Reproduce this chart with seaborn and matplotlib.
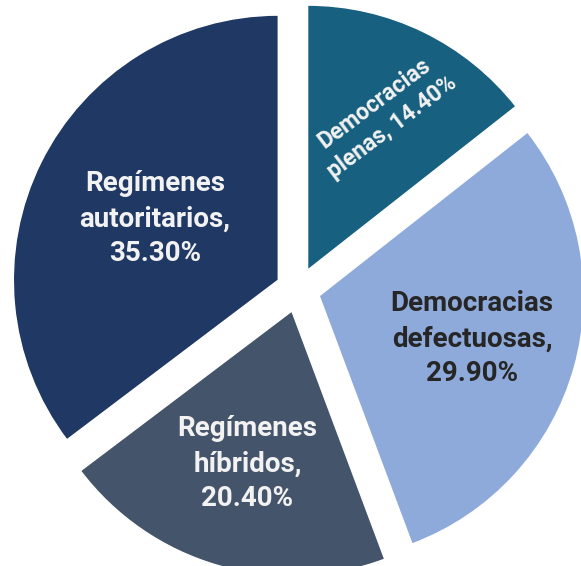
import numpy as np
import seaborn as sns
import matplotlib.pyplot as plt

sns.set_style("white")
plt.rcParams['font.family'] = ['Roboto', 'DejaVu Sans']

# data
categories = ["Democracias\nplenas", "Democracias\ndefectuosas", "Regímenes\nhíbridos", "Regímenes\nautoritarios"]
shares = [14.4, 29.9, 20.4, 35.3]
colors = ["#17607f", "#8eaadb", "#44546a", "#203864"]
text_colors = ["#f2f2f2", "#262626", "#f2f2f2", "#f2f2f2"]
label_dist = [0.65, 0.60, 0.60, 0.52]
font_sizes = [16.5, 20, 20, 20]

fig = plt.figure(figsize=(5.81, 5.66), dpi=100)
ax = fig.add_axes([0, 0, 1, 1])

wedges, _ = ax.pie(shares, colors=colors, startangle=90, counterclock=False,
                   explode=[0.083] * len(shares), radius=1.0)

for i, w in enumerate(wedges):
    mid = np.deg2rad((w.theta1 + w.theta2) / 2)
    cx, cy = w.center
    x = cx + label_dist[i] * np.cos(mid)
    y = cy + label_dist[i] * np.sin(mid)
    if i == 0:
        label = categories[i] + f", {shares[i]:.2f}%"
        rot = 37
    else:
        label = categories[i] + ",\n" + f"{shares[i]:.2f}%"
        rot = 0
    ax.text(x, y, label, ha="center", va="center", rotation=rot,
            rotation_mode="anchor", fontsize=font_sizes[i], fontweight="bold",
            color=text_colors[i], linespacing=1.38)

ax.set_xlim(-1.1245, 1.068)
ax.set_ylim(-1.042, 1.094)
ax.set_aspect("equal")
ax.axis("off")

fig.savefig("out.png", dpi=100)
